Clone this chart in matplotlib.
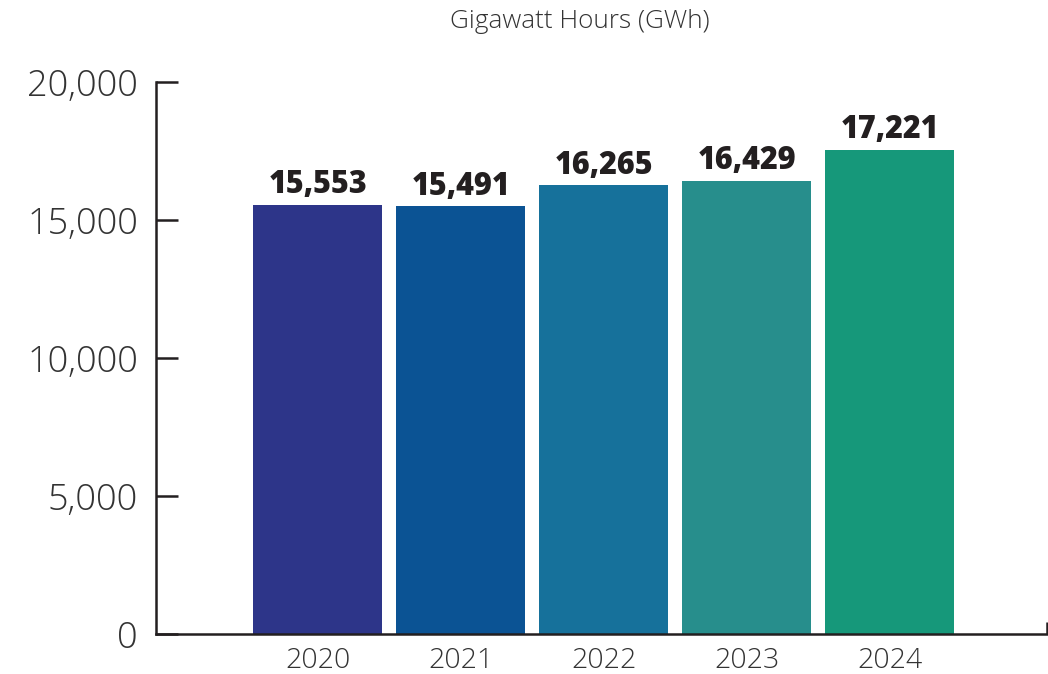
import matplotlib
matplotlib.use('Agg')
import matplotlib.pyplot as plt
from matplotlib.ticker import FuncFormatter

plt.rcParams['font.family'] = ['Open Sans', 'DejaVu Sans']

years = ['2020', '2021', '2022', '2023', '2024']
gwh = [15553, 15491, 16265, 16429, 17540]   # bar heights as drawn
gwh_labels = ['15,553', '15,491', '16,265', '16,429', '17,221']
colors = ['#2d3589', '#0b5394', '#16719b', '#278e8c', '#16987a']
ink = '#231f20'

fig = plt.figure(figsize=(10.48, 6.74), dpi=100)
ax = fig.add_axes([156/1048, 40/674, (1047-156)/1048, (634-82)/674])

x = range(len(years))
ax.bar(x, gwh, width=0.9, color=colors)
for i, v in enumerate(gwh):
    ax.annotate(gwh_labels[i], (i, v), xytext=(0, 2.5), textcoords='offset points',
                ha='center', va='bottom', fontsize=22, fontweight='heavy', color=ink)

ax.set_xlim(-1.13, 5.10)
ax.set_ylim(0, 20000)
ax.set_yticks([0, 5000, 10000, 15000, 20000])
ax.yaxis.set_major_formatter(FuncFormatter(lambda v, p: f'{int(v):,}'))
ax.set_xticks(list(x))
ax.set_xticklabels(years)
ax.set_xticks([5.10], minor=True)

for s in ['top', 'right']:
    ax.spines[s].set_visible(False)
for s in ['left', 'bottom']:
    ax.spines[s].set_linewidth(1.8)
    ax.spines[s].set_color(ink)

ax.tick_params(axis='y', direction='in', length=16, width=1.8, color=ink,
               labelsize=26, pad=13, labelcolor='#333333')
ax.tick_params(axis='x', which='major', length=0, labelsize=20.5, pad=9,
               labelcolor='#333333')
ax.tick_params(axis='x', which='minor', direction='in', length=8.5, width=1.8,
               color=ink)
for lab in ax.get_yticklabels() + ax.get_xticklabels():
    lab.set_fontweight('light')

fig.text(580/1048, 1 - 22/674, 'Gigawatt Hours (GWh)', ha='center', va='center',
         fontsize=18.8, fontweight='light', color='#333333')

fig.savefig('out.png', dpi=100)
